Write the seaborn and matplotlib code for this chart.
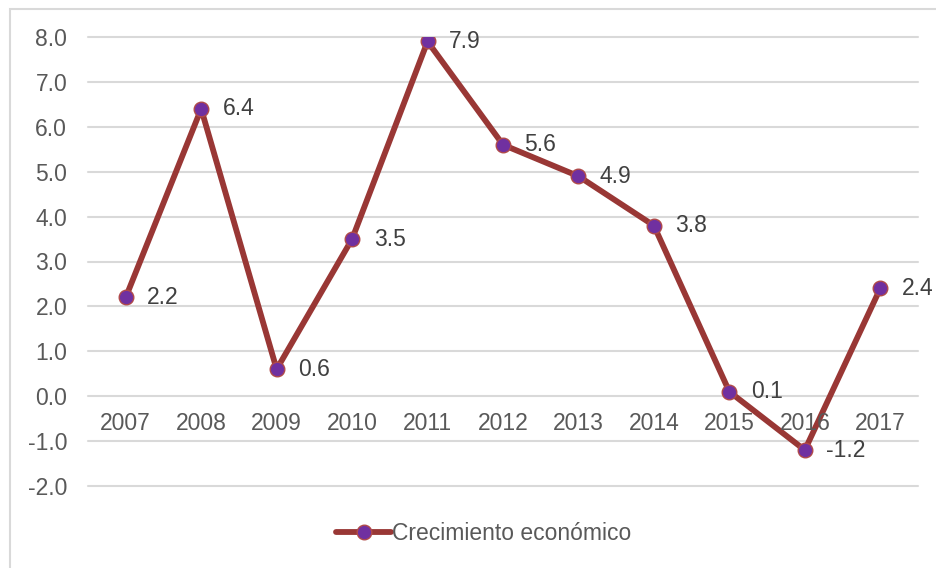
import pandas as pd
import numpy as np
import matplotlib.pyplot as plt
import matplotlib.patches as mpatches
import seaborn as sns

# data
years = ["2007", "2008", "2009", "2010", "2011", "2012", "2013", "2014", "2015", "2016", "2017"]
growth = [2.2, 6.4, 0.6, 3.5, 7.9, 5.6, 4.9, 3.8, 0.1, -1.2, 2.4]
series_name = "Crecimiento económico"

df = pd.DataFrame({"pos": np.arange(len(years)), "growth": growth})

sns.set_style("white")
plt.rcParams["font.family"] = ["Liberation Sans", "DejaVu Sans"]

text_col = "#595959"
line_col = "#993735"
mark_col = "#7030A0"
fs = 16.5

fig = plt.figure(figsize=(9.36, 5.68), dpi=100)
ax = fig.add_axes([88 / 936, 1 - 486 / 568, 830 / 936, 449 / 568])

sns.lineplot(data=df, x="pos", y="growth", ax=ax, color=line_col, linewidth=4.2,
             marker="o", markersize=10.5, markerfacecolor=mark_col,
             markeredgecolor="#b04a4a", markeredgewidth=1.0, label=series_name,
             zorder=3)

ax.set_xlim(-0.5, len(years) - 0.5)
ax.set_ylim(-2, 8)
ax.set_yticks(np.arange(-2, 9, 1))
ax.set_yticklabels([f"{v:.1f}" for v in np.arange(-2, 9, 1)], fontsize=fs, color=text_col)
ax.tick_params(axis="y", length=0, pad=15)
ax.set_xticks([])
ax.set_xlabel("")
ax.set_ylabel("")
ax.grid(axis="y", color="#d9d9d9", linewidth=1.5)
for g in ax.get_ygridlines():
    g.set_clip_on(False)
for s in ax.spines.values():
    s.set_visible(False)

# category labels sit just under the zero line
for i, yr in enumerate(years):
    ax.annotate(yr, (i, 0), xytext=(0, -20), textcoords="offset points",
                ha="center", va="center", fontsize=fs, color=text_col)

# value labels to the right of each point
for i, v in enumerate(growth):
    ax.annotate(f"{v:.1f}", (i, v), xytext=(15.5, 0), textcoords="offset points",
                ha="left", va="center", fontsize=fs, color="#404040",
                annotation_clip=False)

leg = ax.legend(loc="center", bbox_to_anchor=(0.517, 1 - 534 / 568),
                bbox_transform=fig.transFigure, frameon=False, fontsize=fs,
                handlelength=2.4, handletextpad=0.05, labelcolor=text_col)

# light outer border (right and bottom edges fall outside the image)
fig.patches.append(mpatches.Rectangle((10 / 936, -0.1), 2.0, (568 - 9) / 568 + 0.1,
                                      transform=fig.transFigure, fill=False,
                                      edgecolor="#d9d9d9", linewidth=1.5))

fig.savefig("out.png", dpi=100)
